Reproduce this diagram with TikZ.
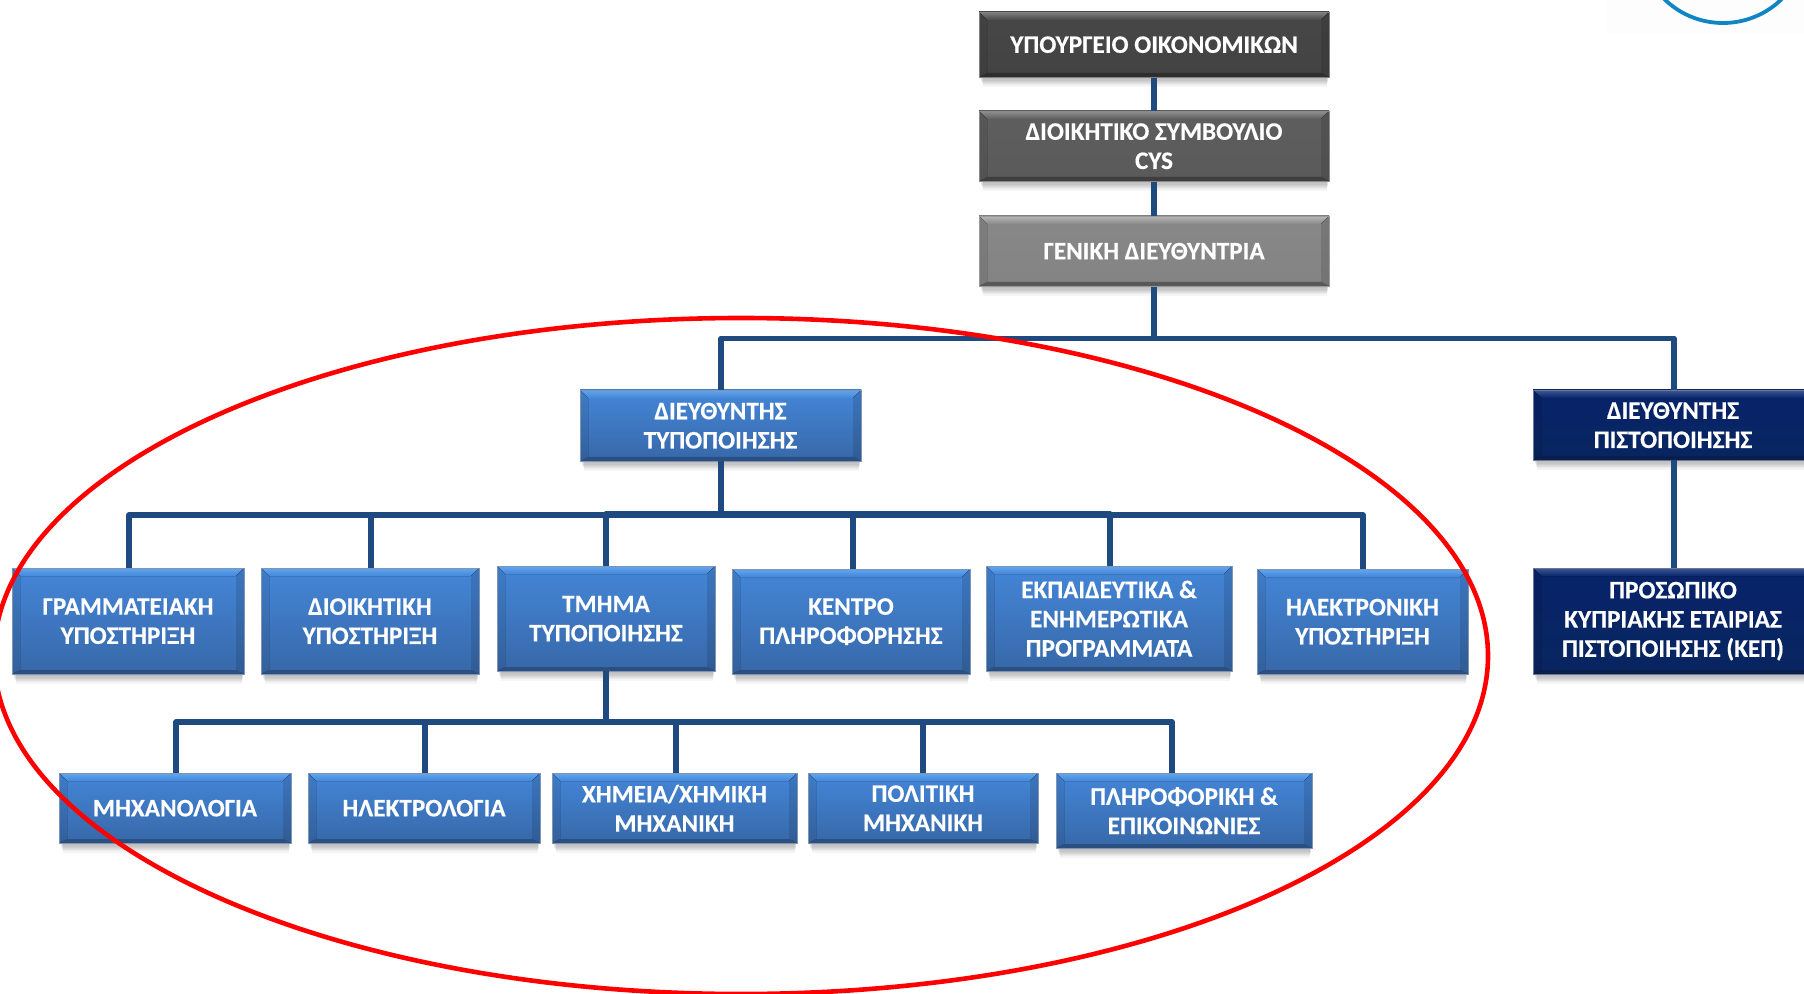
\documentclass[tikz,border=0pt]{standalone}
\usepackage{fontspec}
\setmainfont{Carlito}[BoldFeatures={FakeBold=0.35}]
\definecolor{line}{HTML}{1F4A80}
\definecolor{ring}{HTML}{0F85C4}
\definecolor{bluetop}{HTML}{4486D8}\definecolor{bluebot}{HTML}{3768A8}\definecolor{bluehi}{HTML}{62A6EE}\definecolor{bluelo}{HTML}{2B4F80}
\definecolor{navytop}{HTML}{07246A}\definecolor{navybot}{HTML}{092560}\definecolor{navyhi}{HTML}{3F5A96}\definecolor{navylo}{HTML}{0A1E4C}
\definecolor{atop}{HTML}{474747}\definecolor{abot}{HTML}{434343}\definecolor{ahi}{HTML}{808080}\definecolor{alo}{HTML}{2E2E2E}
\definecolor{btop}{HTML}{5E5E5E}\definecolor{bbot}{HTML}{5A5A5A}\definecolor{bhi}{HTML}{909090}\definecolor{blo}{HTML}{3E3E3E}
\definecolor{ctop}{HTML}{888888}\definecolor{cbot}{HTML}{838383}\definecolor{chi}{HTML}{B8B8B8}\definecolor{clo}{HTML}{585858}
\tikzset{
  x=0.5pt,y=-0.5pt,
  boxtext/.style={text=white,align=center,inner sep=0pt,yshift=-0.1pt,font=\bfseries\fontsize{12.6}{14.6}\selectfont},
  connector/.style={draw=line,line width=2.8pt,line join=round},
  oval/.style={draw=red,line width=2.3pt},
}
% name x1 y1 x2 y2 palette text
\newcommand{\bevbox}[7]{%
  \foreach \s in {1,...,8}{\fill[black,opacity=.04] (#2+\s*.5,#3+\s) rectangle (#4-\s*.3,#5+\s*1.2);}
  \fill[top color=#6top,bottom color=#6bot] (#2,#3) rectangle (#4,#5);
  \fill[top color=#6hi,bottom color=#6top] (#2,#3) -- (#4,#3) -- (#4-8,#3+8) -- (#2+8,#3+8) -- cycle;
  \fill[top color=#6top!92!black,bottom color=#6bot!92!black] (#2,#3) -- (#2+8,#3+8) -- (#2+8,#5-4) -- (#2,#5) -- cycle;
  \fill[top color=#6top!88!black,bottom color=#6bot!88!black] (#4,#3) -- (#4-8,#3+8) -- (#4-8,#5-4) -- (#4,#5) -- cycle;
  \fill[#6lo] (#2,#5) -- (#2+8,#5-4) -- (#4-8,#5-4) -- (#4,#5) -- cycle;
  \draw[#6lo!60!white,line width=.3pt] (#2,#3) rectangle (#4,#5);
  \path let \n1={(#4-(#2))*0.5}, \n2={(#5-(#3))*0.5} in
    node[boxtext,minimum width=\n1 pt,minimum height=\n2 pt] (#1) at ({(#2+#4)/2},{(#3+#5)/2}) {#7};
}
\usetikzlibrary{calc}
\begin{document}
\begin{tikzpicture}
\useasboundingbox (0,0) rectangle (1804,994);
\clip (0,0) rectangle (1804,994);
\fill[white] (0,0) rectangle (1804,994);
\fill[black!0.6] (1607,0) rectangle (1804,33);
\draw[ring,line width=1.9pt] (1723,-61) circle (84);

\bevbox{mof}{979}{12}{1329}{77}{a}{ΥΠΟΥΡΓΕΙΟ ΟΙΚΟΝΟΜΙΚΩΝ}
\bevbox{ds}{979}{111}{1329}{181}{b}{ΔΙΟΙΚΗΤΙΚΟ ΣΥΜΒΟΥΛΙΟ\\CYS}
\bevbox{gd}{979}{216}{1329}{286}{c}{ΓΕΝΙΚΗ ΔΙΕΥΘΥΝΤΡΙΑ}
\bevbox{dt}{580}{390}{861}{461}{blue}{ΔΙΕΥΘΥΝΤΗΣ\\ΤΥΠΟΠΟΙΗΣΗΣ}
\bevbox{dp}{1533}{390}{1813}{460}{navy}{ΔΙΕΥΘΥΝΤΗΣ\\ΠΙΣΤΟΠΟΙΗΣΗΣ}
\bevbox{kep}{1533}{568}{1813}{674}{navy}{ΠΡΟΣΩΠΙΚΟ\\ΚΥΠΡΙΑΚΗΣ ΕΤΑΙΡΙΑΣ\\ΠΙΣΤΟΠΟΙΗΣΗΣ (ΚΕΠ)}

\bevbox{gram}{12}{568}{244}{674}{blue}{ΓΡΑΜΜΑΤΕΙΑΚΗ\\ΥΠΟΣΤΗΡΙΞΗ}
\bevbox{dioik}{261}{568}{479}{674}{blue}{ΔΙΟΙΚΗΤΙΚΗ\\ΥΠΟΣΤΗΡΙΞΗ}
\bevbox{tmima}{497}{566}{715}{671}{blue}{ΤΜΗΜΑ\\ΤΥΠΟΠΟΙΗΣΗΣ}
\bevbox{kentro}{732}{569}{970}{674}{blue}{ΚΕΝΤΡΟ\\ΠΛΗΡΟΦΟΡΗΣΗΣ}
\bevbox{ekp}{986}{566}{1232}{671}{blue}{ΕΚΠΑΙΔΕΥΤΙΚΑ \&\\ΕΝΗΜΕΡΩΤΙΚΑ\\ΠΡΟΓΡΑΜΜΑΤΑ}
\bevbox{ilek}{1257}{569}{1468}{674}{blue}{ΗΛΕΚΤΡΟΝΙΚΗ\\ΥΠΟΣΤΗΡΙΞΗ}

\bevbox{mix}{59}{773}{291}{843}{blue}{ΜΗΧΑΝΟΛΟΓΙΑ}
\bevbox{ila}{308}{773}{540}{843}{blue}{ΗΛΕΚΤΡΟΛΟΓΙΑ}
\bevbox{xim}{552}{773}{797}{843}{blue}{ΧΗΜΕΙΑ/ΧΗΜΙΚΗ\\ΜΗΧΑΝΙΚΗ}
\bevbox{pol}{808}{773}{1038}{843}{blue}{ΠΟΛΙΤΙΚΗ\\ΜΗΧΑΝΙΚΗ}
\bevbox{pli}{1056}{773}{1312}{848}{blue}{ΠΛΗΡΟΦΟΡΙΚΗ \&\\ΕΠΙΚΟΙΝΩΝΙΕΣ}

% free anchor points of the connectors on each bus
\coordinate (bus1) at (1154,338.5);
\coordinate (dtin) at (721,390);
\coordinate (dpin) at (1674,390);
\coordinate (dpout) at (1674,460);
\coordinate (kepin) at (1674,568);
\coordinate (bus2) at (721,514);
\coordinate (dtout) at (721,461);
\coordinate (g1) at (129,568);
\coordinate (g2) at (371,568);
\coordinate (g3) at (606,566);
\coordinate (g4) at (853,569);
\coordinate (g5) at (1110,566);
\coordinate (g6) at (1363,569);
\coordinate (tmout) at (606,671);
\coordinate (bus3) at (606,722);
\coordinate (h1) at (176,773);
\coordinate (h2) at (425,773);
\coordinate (h3) at (676,773);
\coordinate (h4) at (923,773);
\coordinate (h5) at (1172,773);

\draw[connector] (mof.south) -- (ds.north);
\draw[connector] (ds.south) -- (gd.north);
\draw[connector] (gd.south) -- (bus1);
\draw[connector] (dtin) |- (bus1) -| (dpin);
\draw[connector] (dpout) -- (kepin);
\draw[connector] (dtout) -- (bus2);
\draw[connector] (g1) |- (bus2 |- 0,515) -| (g6);
\draw[connector] (g2) -- (g2 |- bus2);
\draw[connector] (g3) |- (bus2) -| (g5);
\draw[connector] (g4) -- (g4 |- bus2);
\draw[connector] (tmout) -- (bus3);
\draw[connector] (h1) |- (bus3) -| (h5);
\draw[connector] (h2) -- (h2 |- bus3);
\draw[connector] (h3) -- (h3 |- bus3);
\draw[connector] (h4) -- (h4 |- bus3);

\draw[oval] (741,656) ellipse [x radius=747,y radius=338];
\end{tikzpicture}
\end{document}
